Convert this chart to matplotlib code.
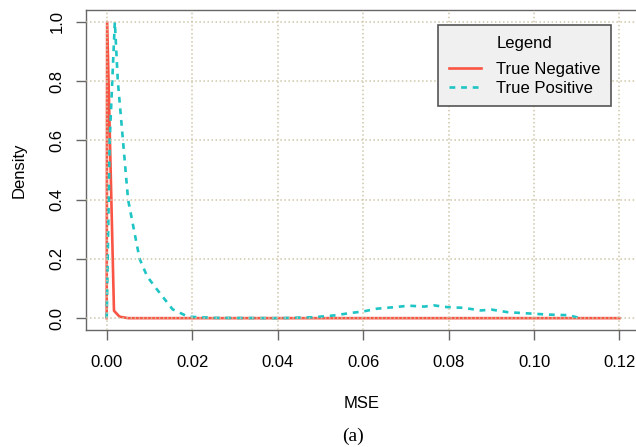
import numpy as np
import matplotlib.pyplot as plt

# density curves
tn_mse = [0.0, 0.0001, 0.0017, 0.003, 0.005, 0.01, 0.05, 0.1, 0.12]
tn_density = [0.0, 1.0, 0.025, 0.005, 0.0, 0.0, 0.0, 0.0, 0.0]

tp_mse = [0.0, 0.0007, 0.0019, 0.0026, 0.0038, 0.005, 0.0077, 0.0095, 0.0116,
          0.0154, 0.019, 0.025, 0.0405, 0.0484, 0.0531, 0.0574, 0.06, 0.0633,
          0.0672, 0.0707, 0.0743, 0.0766, 0.0798, 0.0833, 0.0876, 0.09, 0.0939,
          0.0986, 0.1033, 0.108, 0.11, 0.111]
tp_density = [0.0, 0.6, 1.0, 0.8, 0.6, 0.4, 0.2, 0.14, 0.10,
              0.03, 0.005, 0.001, 0.0, 0.003, 0.009, 0.018, 0.0225, 0.032,
              0.037, 0.042, 0.039, 0.043, 0.037, 0.035, 0.026, 0.029, 0.020,
              0.016, 0.012, 0.010, 0.003, 0.0]

xticks = [0.00, 0.02, 0.04, 0.06, 0.08, 0.10, 0.12]
yticks = [0.0, 0.2, 0.4, 0.6, 0.8, 1.0]

plt.rcParams['font.family'] = ['Liberation Sans', 'DejaVu Sans']

W, H = 636, 447
fig = plt.figure(figsize=(W / 100, H / 100), dpi=100)
ax = fig.add_axes([86.2 / W, 1 - 330 / H, 553.8 / W, 320 / H])

ax.plot(tn_mse, tn_density, color='#fa5544', lw=1.9, label='True Negative', zorder=2)
ax.plot(tp_mse, tp_density, color='#1fc4c4', lw=1.9, ls=(0, (2.2, 2.2)), label='True Positive', zorder=2)

ax.set_xlim(-0.0048, 0.1248)
ax.set_ylim(-0.04, 1.04)
ax.set_xticks(xticks)
ax.set_xticklabels(['%.2f' % v for v in xticks], fontsize=12)
ax.set_yticks(yticks)
ax.set_yticklabels(['%.1f' % v for v in yticks], fontsize=12, rotation=90, va='center')
ax.tick_params(axis='both', length=7.5, width=1, color='#666666')
ax.tick_params(axis='x', pad=10.5)
ax.tick_params(axis='y', pad=8)

for s in ax.spines.values():
    s.set_color('#666666')
    s.set_linewidth(1)

ax.grid(True, ls=':', color='#cfc6a8', lw=1.1)
ax.set_axisbelow(False)

fig.text(19 / W, 1 - 170 / H, 'Density', rotation=90, fontsize=12, ha='center', va='center')
fig.text(362 / W, 1 - 403 / H, 'MSE', fontsize=12, ha='center', va='center')
fig.text(353 / W, 1 - 436 / H, '(a)', fontsize=14, ha='center', va='center',
         family=['Liberation Serif', 'DejaVu Serif'])

leg = ax.legend(title='Legend', loc='upper right', bbox_to_anchor=(611 / W, 1 - 25 / H),
                bbox_transform=fig.transFigure, fontsize=12, title_fontsize=12,
                fancybox=False, framealpha=1, facecolor='#f0f0f0', edgecolor='#555555',
                handlelength=1.9, handletextpad=0.9, borderpad=0.65, labelspacing=0.22,
                borderaxespad=0)
leg.get_frame().set_linewidth(1.2)
leg._legend_box.sep = 8

fig.savefig('out.png', dpi=100)
